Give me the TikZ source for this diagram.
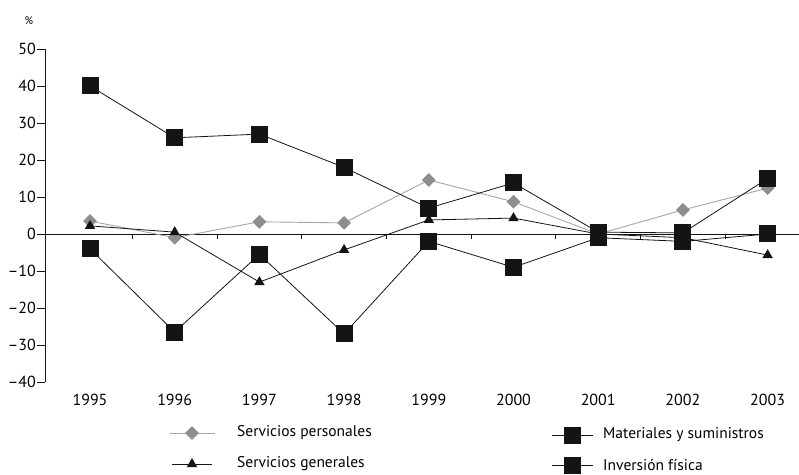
\documentclass[tikz,border=0pt]{standalone}
\usepackage{fontspec}
\setmainfont{PT Sans}
\usetikzlibrary{positioning,shapes.geometric}
\definecolor{chInk}{HTML}{141414}
\definecolor{chGray}{HTML}{8E8E8E}
\definecolor{chGrayLine}{HTML}{A6A6A6}
\newcommand\ticklab[1]{\ifnum#1<0 –\number\numexpr-#1\relax\else#1\fi}
\tikzset{
  sqmark/.style={rectangle, fill=chInk, minimum size=17pt, inner sep=0pt},
  dmmark/.style={diamond, fill=chGray, minimum size=14pt, inner sep=0pt},
  trmark/.style={regular polygon, regular polygon sides=3, fill=chInk, minimum size=12pt, inner sep=0pt},
  axlab/.style={font=\fontsize{16}{18}\selectfont, inner sep=1pt},
  keylab/.style={font=\fontsize{15.5}{18}\selectfont, anchor=west, inner sep=0pt},
  inkline/.style={chInk, line width=0.8pt},
  grayline/.style={chGrayLine, line width=0.9pt}
}
\begin{document}
\begin{tikzpicture}
  \useasboundingbox (0,0) rectangle (799pt,474pt);
  \node[font=\fontsize{11}{12}\selectfont, inner sep=0pt] (pct) at (29pt,453pt) {\%};
  % chart area: one x unit per year, y in percent
  \begin{scope}[shift={(90pt,240pt)}, x=84.7pt, y=3.7pt]
    % axes
    \coordinate (yTop) at (-0.531,50);
    \coordinate (yBot) at (-0.531,-40);
    \coordinate (xLeft) at (-0.531,0);
    \coordinate (xRight) at (8.371,0);
    \draw[inkline] (yTop) -- (yBot);
    \draw[inkline] (xLeft) -- (xRight);
    \foreach \v in {-40,-30,...,50} {
      \draw[inkline] (-0.531,\v) -- ++(-8pt,0pt) coordinate (tick\v);
      \node[axlab, anchor=east] (ylab\v) at (tick\v) {\ticklab{\v}};
    }
    \foreach \i in {0,...,7}
      \draw[inkline] (\i+0.5,0) -- ++(0pt,-5pt);
    \foreach \yr [count=\i from 0] in {1995,...,2003}
      \node[axlab] (year\yr) at (\i,-44.9) {\yr};
    % Servicios personales
    \foreach \v [count=\i from 0] in {3.5,-1,3.3,3,14.6,8.7,0,6.5,12.4}
      \coordinate (per\i) at (\i,\v);
    \draw[grayline] (per0) \foreach \i in {1,...,8} { -- (per\i) };
    \foreach \i in {0,...,8}
      \node[dmmark] (perm\i) at (per\i) {};
    % Servicios generales
    \foreach \v [count=\i from 0] in {2.2,0.5,-13,-4.3,3.8,4.3,0,-1,-5.7}
      \coordinate (gen\i) at (\i,\v);
    \draw[inkline] (gen0) \foreach \i in {1,...,8} { -- (gen\i) };
    \foreach \i in {0,...,8}
      \node[trmark] (genm\i) at (gen\i) {};
    % Inversion fisica
    \foreach \v [count=\i from 0] in {-4,-26.5,-5.5,-27,-2,-9,-1,-2,0}
      \coordinate (inv\i) at (\i,\v);
    \draw[inkline] (inv0) \foreach \i in {1,...,8} { -- (inv\i) };
    \foreach \i in {0,...,8}
      \node[sqmark] (invm\i) at (inv\i) {};
    % Materiales y suministros
    \foreach \v [count=\i from 0] in {40,26,27,18,7,13.8,0.5,0.3,15}
      \coordinate (mat\i) at (\i,\v);
    \draw[inkline] (mat0) \foreach \i in {1,...,8} { -- (mat\i) };
    \foreach \i in {0,...,8}
      \node[sqmark] (matm\i) at (mat\i) {};
  \end{scope}
  % legend
  \coordinate (perKey) at (192pt,41pt);
  \coordinate (genKey) at (192pt,10pt);
  \coordinate (matKey) at (572pt,39pt);
  \coordinate (invKey) at (572pt,9pt);
  \draw[grayline] ([xshift=-22pt]perKey) -- ([xshift=23pt]perKey);
  \draw[inkline] ([xshift=-20pt]genKey) -- ([xshift=20pt]genKey);
  \draw[inkline] ([xshift=-20pt]matKey) -- ([xshift=21pt]matKey);
  \draw[inkline] ([xshift=-20pt]invKey) -- ([xshift=21pt]invKey);
  \node[dmmark] (perKeyM) at (perKey) {};
  \node[trmark] (genKeyM) at (genKey) {};
  \node[sqmark] (matKeyM) at (matKey) {};
  \node[sqmark] (invKeyM) at (invKey) {};
  \node[keylab] (perText) at (237pt,41pt) {Servicios personales};
  \node[keylab] (genText) at (237pt,10pt) {Servicios generales};
  \node[keylab] (matText) at (603pt,39pt) {Materiales y suministros};
  \node[keylab] (invText) at (603pt,9pt) {Inversión física};
\end{tikzpicture}
\end{document}
